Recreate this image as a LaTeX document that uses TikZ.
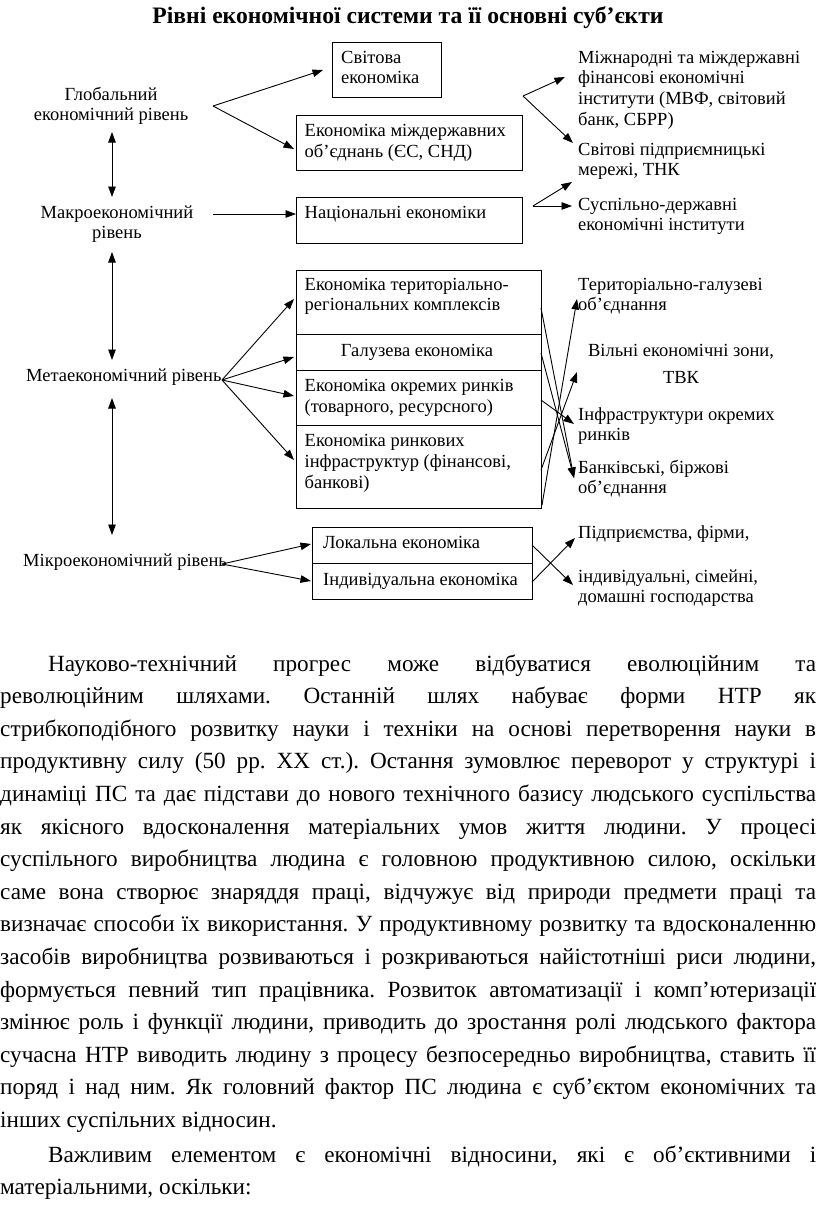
\documentclass[tikz,border=0pt]{standalone}
\usepackage{fontspec}
\setmainfont{Liberation Serif}
\usetikzlibrary{arrows.meta}
\newcommand\dg{\fontsize{18.5}{20.7}\selectfont}
\newcommand\bdf{\fontsize{23.2}{32.6}\selectfont\frenchspacing}
\newcommand\jl[1]{\hbox to 816pt{\spaceskip=0.25em plus 1fil minus 0.12em\relax #1}}
\newcommand\nl[1]{\hbox{\spaceskip=0.25em plus 0.1em\relax #1}}
\tikzset{
  box/.style={draw, line width=0.9pt, inner sep=0pt, anchor=north west},
  lbl/.style={inner sep=0pt, anchor=base west, align=left, font=\dg},
  clbl/.style={inner sep=0pt, anchor=base, align=center, font=\dg},
  arr/.style={line width=0.9pt, -{Triangle[length=10.5pt,width=7.5pt]}},
  darr/.style={line width=0.9pt, {Triangle[length=10.5pt,width=7.5pt]}-{Triangle[length=10.5pt,width=7.5pt]}},
  ln/.style={line width=0.9pt}
}
\begin{document}
\begin{tikzpicture}[x=1pt,y=-1pt]
\fill[white] (0,0) rectangle (816,1208);
\useasboundingbox (0,0) rectangle (816,1208);

% title
\node[inner sep=0pt, anchor=base, font=\bfseries\fontsize{23.6}{26}\selectfont] (title) at (408,23.5) {Рівні економічної системи та її основні суб’єкти};

% boxes
\node[box, minimum width=109pt, minimum height=55pt] (sv) at (332,42) {};
\node[box, minimum width=226pt, minimum height=55pt] (md) at (296,115) {};
\node[box, minimum width=226pt, minimum height=46pt] (nat) at (296,197) {};
\node[box, minimum width=245pt, minimum height=64pt] (m1) at (296,270) {};
\node[box, minimum width=245pt, minimum height=36pt] (m2) at (296,334) {};
\node[box, minimum width=245pt, minimum height=55pt] (m3) at (296,370) {};
\node[box, minimum width=245pt, minimum height=83pt] (m4) at (296,425) {};
\node[box, minimum width=220pt, minimum height=36pt] (loc) at (312,527) {};
\node[box, minimum width=220pt, minimum height=36pt] (ind) at (312,563) {};

% box texts (anchor = baseline of the last line)
\node[lbl] (tsv) at (341,83.7) {Світова\\економіка};
\node[lbl] (tmd) at (304.5,157.4) {Економіка міждержавних\\об’єднань (ЄС, СНД)};
\node[lbl] (tnat) at (304.5,218.3) {Національні економіки};
\node[lbl] (tm1) at (304.5,310.7) {Економіка територіально-\\регіональних комплексів};
\node[clbl] (tm2) at (417,356.7) {Галузева економіка};
\node[lbl] (tm3) at (304.5,412.4) {Економіка окремих ринків\\(товарного, ресурсного)};
\node[lbl] (tm4) at (304.5,488.1) {Економіка ринкових\\інфраструктур (фінансові,\\банкові)};
\node[lbl] (tloc) at (323,548) {Локальна економіка};
\node[lbl] (tind) at (323,585) {Індивідуальна економіка};

% left labels
\node[clbl] (glob) at (111,120.7) {Глобальний\\економічний рівень};
\node[clbl] (macro) at (117,238.7) {Макроекономічний\\рівень};
\node[lbl] (meta) at (26,381.7) {Метаекономічний рівень};
\node[lbl] (micro) at (23,566.7) {Мікроекономічний рівень};

% right labels
\node[lbl] (r1) at (578,125.1) {Міжнародні та міждержавні\\фінансові економічні\\інститути (МВФ, світовий\\банк, СБРР)};
\node[lbl] (r2) at (578,175.7) {Світові підприємницькі\\мережі, ТНК};
\node[lbl] (r3) at (578,230.7) {Суспільно-державні\\економічні інститути};
\node[lbl] (r4) at (578,310.7) {Територіально-галузеві\\об’єднання};
\node[clbl] (r5) at (681,383.4) {Вільні економічні зони,\\[6pt]ТВК};
\node[lbl] (r6) at (578,440.7) {Інфраструктури окремих\\ринків};
\node[lbl] (r7) at (578,493.7) {Банківські, біржові\\об’єднання};
\node[lbl] (r8) at (578,538) {Підприємства, фірми,};
\node[lbl] (r9) at (578,602.7) {індивідуальні, сімейні,\\домашні господарства};

% coordinates
\coordinate (gv) at (213,106);
\coordinate (svT) at (323,70);
\coordinate (mdT) at (294,149);
\coordinate (mav) at (213,214);
\coordinate (l1a) at (112,132);
\coordinate (l1b) at (112,197);
\coordinate (l2a) at (112,252);
\coordinate (l2b) at (112,360);
\coordinate (l3a) at (112,398);
\coordinate (l3b) at (112,535);
\coordinate (mv) at (222,380);
\coordinate (m1T) at (294,299);
\coordinate (m2T) at (294,357);
\coordinate (m3T) at (294,396);
\coordinate (m4T) at (294,460);
\coordinate (uv) at (222,564);
\coordinate (locT) at (311,544);
\coordinate (indT) at (311,581);
\coordinate (tv) at (523,96);
\coordinate (r1T) at (565,77);
\coordinate (r2T) at (573,143);
\coordinate (nv) at (533,206);
\coordinate (r2Tb) at (572,182);
\coordinate (r3T) at (572,206);
\coordinate (c1s) at (541,308);
\coordinate (c2s) at (541,353);
\coordinate (c3s) at (541,400);
\coordinate (c4s) at (541,470);
\coordinate (c5s) at (542,505);
\coordinate (T1) at (577,299);
\coordinate (T2) at (577,372);
\coordinate (T3) at (574,424);
\coordinate (T4) at (574,478);
\coordinate (u1s) at (532,545);
\coordinate (u2s) at (532,582);
\coordinate (U1) at (575,538);
\coordinate (U2) at (573,585);

% connectors
\draw[arr] (gv) -- (svT);
\draw[arr] (gv) -- (mdT);
\draw[arr] (mav) -- (mav -| nat.west);
\draw[darr] (l1a) -- (l1b);
\draw[darr] (l2a) -- (l2b);
\draw[darr] (l3a) -- (l3b);
\draw[arr] (mv) -- (m1T);
\draw[arr] (mv) -- (m2T);
\draw[arr] (mv) -- (m3T);
\draw[arr] (mv) -- (m4T);
\draw[arr] (uv) -- (locT);
\draw[arr] (uv) -- (indT);
\draw[arr] (tv) -- (r1T);
\draw[arr] (tv) -- (r2T);
\draw[arr] (nv) -- (r2Tb);
\draw[arr] (nv) -- (r3T);
\draw[arr] (c1s) -- (T4);
\draw[arr] (c2s) -- (T4);
\draw[arr] (c3s) -- (T3);
\draw[arr] (c4s) -- (T2);
\draw[arr] (c5s) -- (T1);
\draw[arr] (u1s) -- (U2);
\draw[arr] (u2s) -- (U1);

% body text
\node[inner sep=0pt, anchor=base west] (body) at (0,671) {\vtop{\bdf\hsize=816pt
\jl{\hspace*{48pt}Науково-технічний прогрес може відбуватися еволюційним та}
\jl{революційним шляхами. Останній шлях набуває форми НТР як}
\jl{стрибкоподібного розвитку науки і техніки на основі перетворення науки в}
\jl{продуктивну силу (50 рр. ХХ ст.). Остання зумовлює переворот у структурі і}
\jl{динаміці ПС та дає підстави до нового технічного базису людського суспільства}
\jl{як якісного вдосконалення матеріальних умов життя людини. У процесі}
\jl{суспільного виробництва людина є головною продуктивною силою, оскільки}
\jl{саме вона створює знаряддя праці, відчужує від природи предмети праці та}
\jl{визначає способи їх використання. У продуктивному розвитку та вдосконаленню}
\jl{засобів виробництва розвиваються і розкриваються найістотніші риси людини,}
\jl{формується певний тип працівника. Розвиток автоматизації і комп’ютеризації}
\jl{змінює роль і функції людини, приводить до зростання ролі людського фактора}
\jl{сучасна НТР виводить людину з процесу безпосередньо виробництва, ставить її}
\jl{поряд і над ним. Як головний фактор ПС людина є суб’єктом економічних та}
\nl{інших суспільних відносин.}
\vskip2pt
\jl{\hspace*{48pt}Важливим елементом є економічні відносини, які є об’єктивними і}
\nl{матеріальними, оскільки:}
}};
\end{tikzpicture}
\end{document}
